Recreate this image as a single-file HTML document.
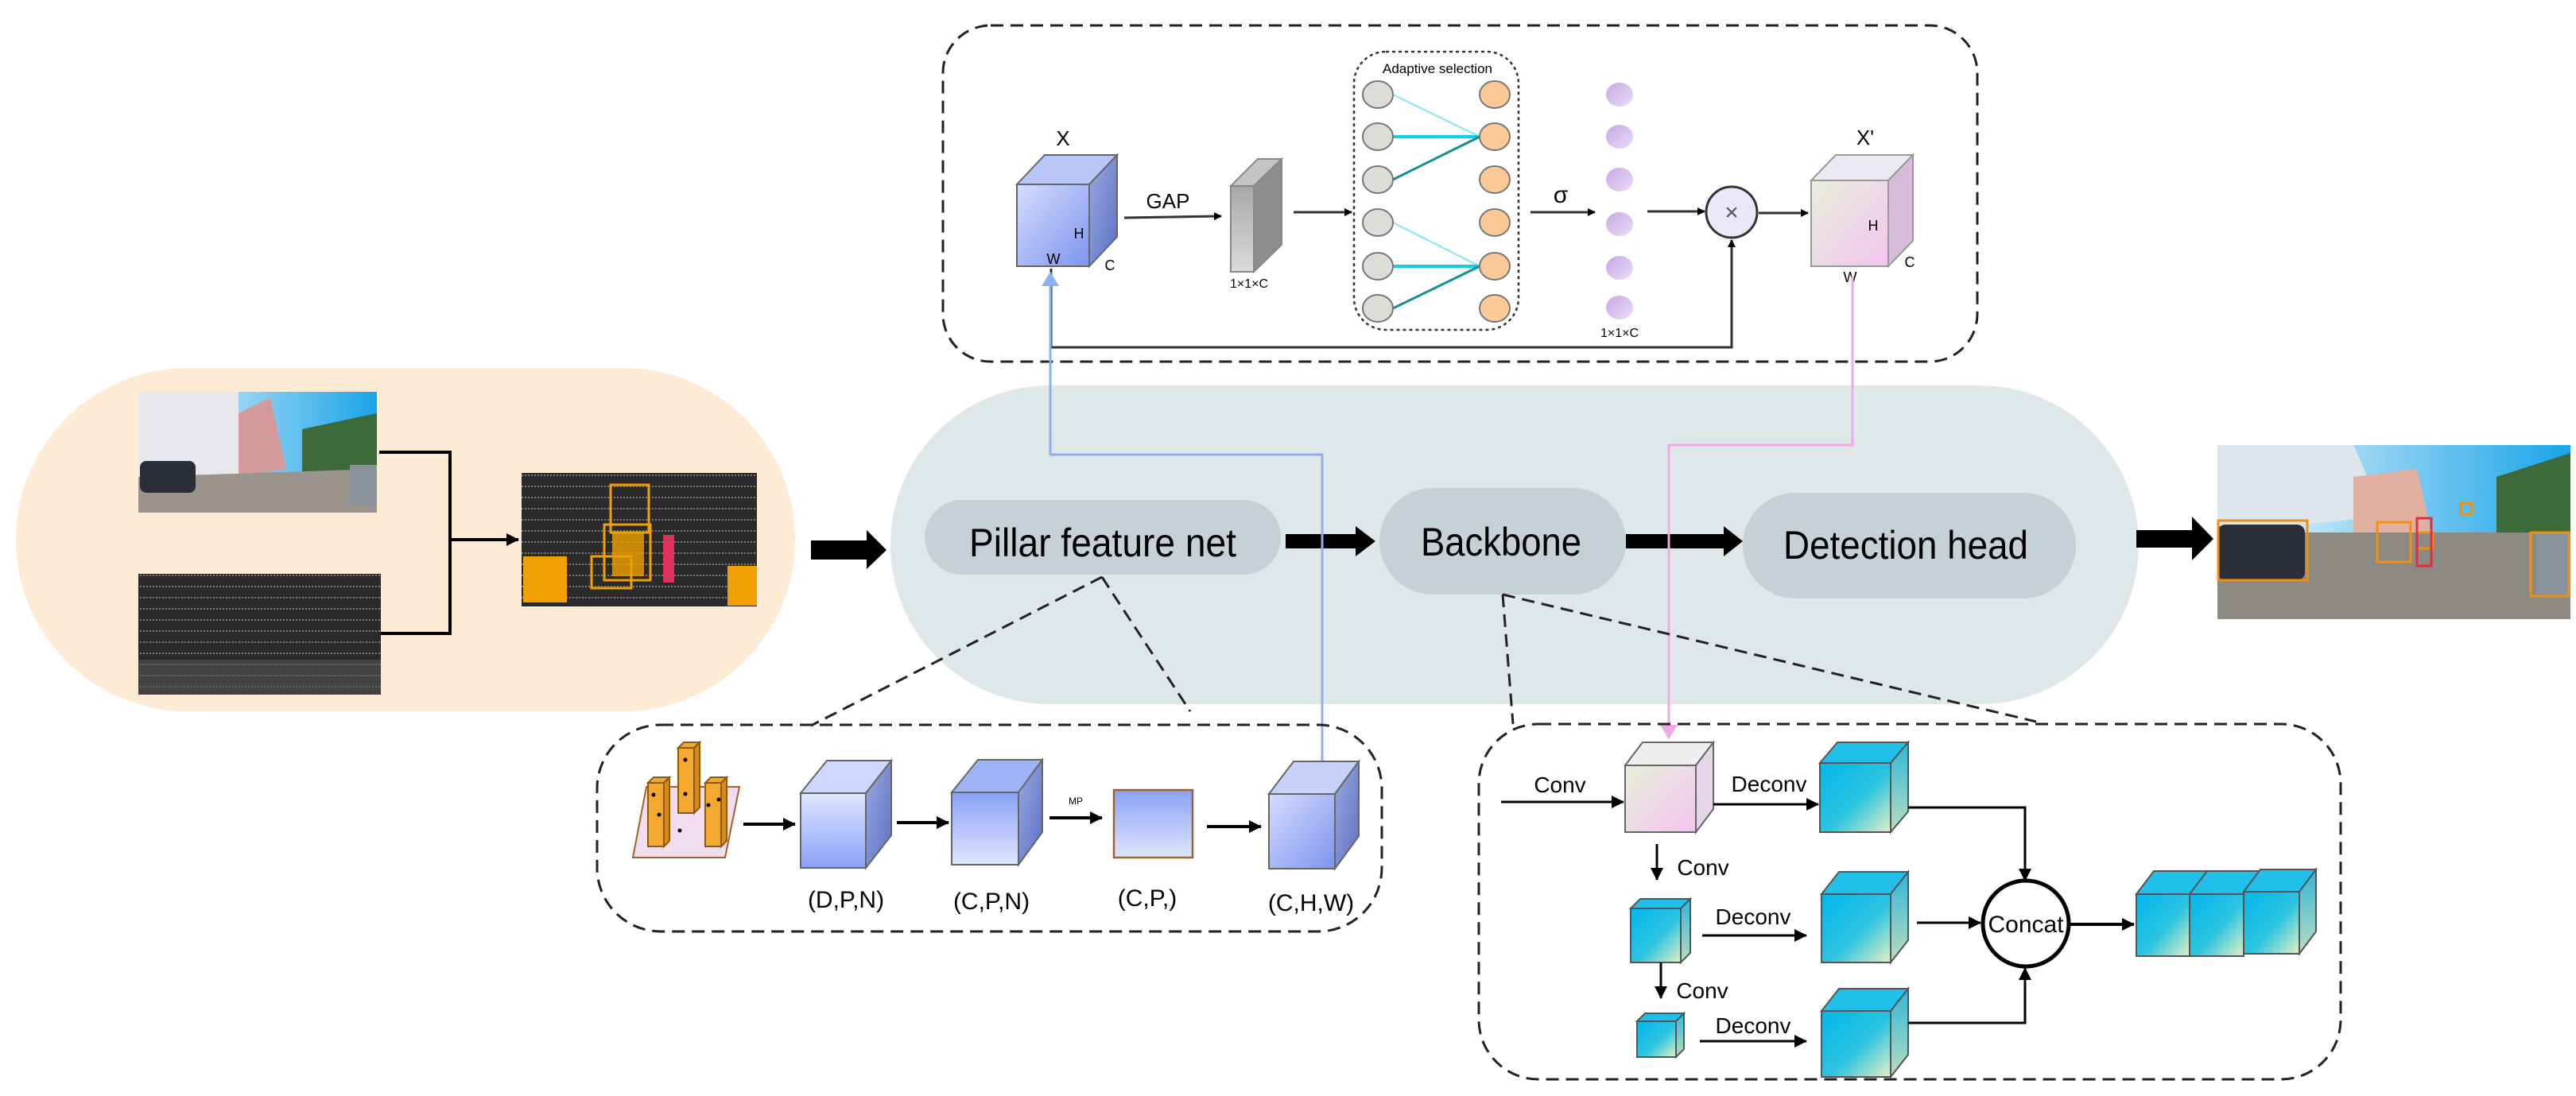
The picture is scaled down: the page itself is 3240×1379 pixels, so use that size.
<!DOCTYPE html>
<html><head><meta charset="utf-8"><style>
html,body{margin:0;padding:0;background:#fff;}
svg{display:block;font-family:"Liberation Sans Narrow","Liberation Sans",sans-serif;}
</style></head><body>
<svg width="3240" height="1379" viewBox="0 0 3240 1379" xmlns="http://www.w3.org/2000/svg">
<defs>
<marker id="ah" markerWidth="10" markerHeight="10" refX="9" refY="5" orient="auto" markerUnits="userSpaceOnUse"><path d="M0,0 L10,5 L0,10 z" fill="#000"/></marker>
<marker id="ahL" markerWidth="16" markerHeight="16" refX="15" refY="8" orient="auto" markerUnits="userSpaceOnUse"><path d="M0,0 L16,8 L0,16 z" fill="#000"/></marker>
<marker id="ahB" markerWidth="18" markerHeight="22" refX="17" refY="11" orient="auto" markerUnits="userSpaceOnUse"><path d="M0,0 L18,11 L0,22 z" fill="#8fb0f0"/></marker>
<marker id="ahP" markerWidth="18" markerHeight="22" refX="17" refY="11" orient="auto" markerUnits="userSpaceOnUse"><path d="M0,0 L18,11 L0,22 z" fill="#f0a8e8"/></marker>
<linearGradient id="gBlue" x1="0" y1="0" x2="1" y2="1"><stop offset="0" stop-color="#d4ddff"/><stop offset="1" stop-color="#7e94ee"/></linearGradient>
<linearGradient id="gBlue2" x1="0" y1="0" x2="0" y2="1"><stop offset="0" stop-color="#8aa2f6"/><stop offset="1" stop-color="#dfe6ff"/></linearGradient>
<linearGradient id="gSideB" x1="0" y1="0" x2="1" y2="1"><stop offset="0" stop-color="#9aa9e0"/><stop offset="1" stop-color="#5c70c4"/></linearGradient>
<linearGradient id="gPink" x1="0" y1="0" x2="1" y2="1"><stop offset="0" stop-color="#e6efdc"/><stop offset="1" stop-color="#f4c4ee"/></linearGradient>
<linearGradient id="gCyan" x1="0" y1="0" x2="1" y2="1"><stop offset="0" stop-color="#00b6ec"/><stop offset="0.55" stop-color="#2cc4e0"/><stop offset="1" stop-color="#e4f0c4"/></linearGradient>
<linearGradient id="gCyanS" x1="0" y1="0" x2="0" y2="1"><stop offset="0" stop-color="#30b8d8"/><stop offset="1" stop-color="#b8dcc0"/></linearGradient>
<linearGradient id="gGray" x1="0" y1="0" x2="0" y2="1"><stop offset="0" stop-color="#a8a8a8"/><stop offset="1" stop-color="#dadada"/></linearGradient>
<linearGradient id="gPurp" x1="0" y1="0" x2="1" y2="1"><stop offset="0" stop-color="#c7a8e6"/><stop offset="1" stop-color="#e9dcf4"/></linearGradient>
<linearGradient id="gSky" x1="0" y1="0" x2="1" y2="0"><stop offset="0" stop-color="#ffffff"/><stop offset="0.4" stop-color="#9ad6f4"/><stop offset="1" stop-color="#1aa4e8"/></linearGradient>
<pattern id="lidar" width="40" height="14" patternUnits="userSpaceOnUse"><rect width="40" height="14" fill="#2a2a2a"/><line x1="0" y1="10" x2="40" y2="10" stroke="#7a7a7a" stroke-width="2" stroke-dasharray="2 2"/></pattern>
</defs>

<!-- orange pill -->
<rect x="20" y="463" width="980" height="432" rx="216" fill="#fdebd5"/>
<!-- grey pill -->
<rect x="1120" y="485" width="1570" height="401" rx="200" fill="#dfe7e9"/>

<!-- photo 1 -->
<g>
<rect x="174" y="493" width="300" height="152" fill="url(#gSky)"/>
<polygon points="174,493 300,493 300,600 174,610" fill="#e8e8ec"/>
<polygon points="300,520 340,500 360,590 300,600" fill="#d49a9a"/>
<polygon points="380,540 474,520 474,600 380,600" fill="#3c6a3a"/>
<polygon points="174,600 474,590 474,645 174,645" fill="#9a948c"/>
<rect x="176" y="580" width="70" height="40" rx="8" fill="#2a2e38"/>
<rect x="440" y="585" width="34" height="50" fill="#8a929c"/>
</g>
<!-- lidar 2 -->
<rect x="174" y="722" width="305" height="152" fill="url(#lidar)"/>
<rect x="174" y="830" width="305" height="44" fill="#555" opacity="0.6"/>
<!-- bracket -->
<polyline points="477,569 566,569 566,797 479,797" fill="none" stroke="#000" stroke-width="4"/>
<line x1="566" y1="679" x2="652" y2="679" stroke="#000" stroke-width="4" marker-end="url(#ahL)"/>
<!-- result lidar -->
<rect x="656" y="595" width="296" height="168" fill="url(#lidar)"/>
<g fill="none" stroke="#f0a000" stroke-width="3">
<rect x="768" y="610" width="48" height="60"/><rect x="760" y="660" width="58" height="70"/>
<rect x="744" y="700" width="50" height="40"/>
</g>
<rect x="658" y="700" width="55" height="58" fill="#f0a000"/>
<rect x="915" y="712" width="37" height="50" fill="#f0a000"/>
<rect x="770" y="670" width="40" height="55" fill="#f0a000" opacity="0.8"/>
<rect x="834" y="673" width="14" height="60" fill="#e03060"/>

<!-- big arrows -->
<polygon points="1020,680 1090,680 1090,667 1115,692 1090,716 1090,704 1020,704" fill="#000"/>
<polygon points="1617,672 1705,672 1705,662 1730,681 1705,700 1705,690 1617,690" fill="#000"/>
<polygon points="2045,672 2168,672 2168,662 2192,681 2168,700 2168,690 2045,690" fill="#000"/>
<polygon points="2687,667 2757,667 2757,650 2784,678 2757,705 2757,689 2687,689" fill="#000"/>

<!-- pills -->
<rect x="1163" y="629" width="448" height="94" rx="47" fill="#c6d1d6"/>
<text x="1387" y="700" font-size="50" text-anchor="middle" textLength="336" lengthAdjust="spacingAndGlyphs">Pillar feature net</text>
<rect x="1735" y="614" width="310" height="134" rx="67" fill="#c6d1d6"/>
<text x="1888" y="699" font-size="50" text-anchor="middle" textLength="202" lengthAdjust="spacingAndGlyphs">Backbone</text>
<rect x="2192" y="620" width="419" height="133" rx="66" fill="#c6d1d6"/>
<text x="2397" y="703" font-size="50" text-anchor="middle" textLength="308" lengthAdjust="spacingAndGlyphs">Detection head</text>

<!-- final photo -->
<g>
<rect x="2789" y="560" width="444" height="219" fill="url(#gSky)"/>
<polygon points="2789,560 2960,560 3000,650 2789,670" fill="#dde4ea"/>
<polygon points="2960,600 3040,590 3060,680 2960,690" fill="#e0b0a0"/>
<polygon points="3140,600 3233,570 3233,690 3140,690" fill="#3c6a3a"/>
<polygon points="2789,670 3233,670 3233,779 2789,779" fill="#8c8882"/>
<rect x="2789" y="660" width="110" height="70" rx="10" fill="#2a2e38"/>
<rect x="3190" y="670" width="43" height="80" fill="#8a929c"/>
<g fill="none" stroke="#f09010" stroke-width="3"><rect x="2790" y="655" width="112" height="75"/><rect x="2990" y="657" width="42" height="50"/><rect x="3040" y="670" width="20" height="20"/><rect x="3183" y="670" width="48" height="80"/><rect x="3095" y="633" width="14" height="14"/></g>
<rect x="3040" y="652" width="18" height="60" fill="none" stroke="#e03040" stroke-width="3"/>
</g>

<!-- top dashed box -->
<rect x="1186" y="32" width="1301" height="423" rx="60" fill="none" stroke="#222" stroke-width="3" stroke-dasharray="16 9"/>
<!-- X cube -->
<polygon points="1279,232 1314,195 1405,195 1370,232" fill="#b8c6f8" stroke="#666" stroke-width="2"/>
<polygon points="1370,232 1405,195 1405,298 1370,335" fill="url(#gSideB)" stroke="#666" stroke-width="2"/>
<rect x="1279" y="232" width="91" height="103" fill="url(#gBlue)" stroke="#666" stroke-width="2"/>
<text x="1337" y="183" font-size="26" text-anchor="middle">X</text>
<text x="1357" y="300" font-size="18" text-anchor="middle">H</text>
<text x="1325" y="332" font-size="18" text-anchor="middle">W</text>
<text x="1396" y="340" font-size="18" text-anchor="middle" font-family="Liberation Sans">C</text>
<!-- GAP -->
<text x="1469" y="262" font-size="26" text-anchor="middle">GAP</text>
<line x1="1414" y1="274" x2="1536" y2="272" stroke="#333" stroke-width="3" marker-end="url(#ah)"/>
<!-- slab -->
<polygon points="1548,234 1582,200 1612,200 1577,234" fill="#c4c4c4" stroke="#888" stroke-width="2"/>
<polygon points="1577,234 1612,200 1612,308 1577,342" fill="#8e8e8e" stroke="#888" stroke-width="2"/>
<rect x="1548" y="234" width="29" height="108" fill="url(#gGray)" stroke="#888" stroke-width="2"/>
<text x="1571" y="362" font-size="16" text-anchor="middle" font-family="Liberation Sans">1×1×C</text>
<line x1="1627" y1="267" x2="1700" y2="267" stroke="#333" stroke-width="3" marker-end="url(#ah)"/>
<!-- adaptive box -->
<rect x="1703" y="65" width="207" height="350" rx="40" fill="none" stroke="#333" stroke-width="2.5" stroke-dasharray="4 4"/>
<text x="1808" y="92" font-size="17" text-anchor="middle">Adaptive selection</text>
<g stroke-width="2">
<line x1="1752" y1="119" x2="1861" y2="172" stroke="#7de8f0"/>
<line x1="1752" y1="172" x2="1861" y2="172" stroke="#10d0e8" stroke-width="4"/>
<line x1="1752" y1="226" x2="1861" y2="172" stroke="#10908f" stroke-width="3"/>
<line x1="1752" y1="280" x2="1861" y2="335" stroke="#7de8f0"/>
<line x1="1752" y1="335" x2="1861" y2="335" stroke="#10d0e8" stroke-width="4"/>
<line x1="1752" y1="388" x2="1861" y2="335" stroke="#10908f" stroke-width="3"/>
</g>
<g fill="#dcdcd8" stroke="#777" stroke-width="2">
<ellipse cx="1733" cy="119" rx="19" ry="17"/><ellipse cx="1733" cy="172" rx="19" ry="17"/><ellipse cx="1733" cy="226" rx="19" ry="17"/>
<ellipse cx="1733" cy="280" rx="19" ry="17"/><ellipse cx="1733" cy="335" rx="19" ry="17"/><ellipse cx="1733" cy="388" rx="19" ry="17"/>
</g>
<g fill="#fbc898" stroke="#777" stroke-width="2">
<ellipse cx="1880" cy="119" rx="19" ry="17"/><ellipse cx="1880" cy="172" rx="19" ry="17"/><ellipse cx="1880" cy="226" rx="19" ry="17"/>
<ellipse cx="1880" cy="280" rx="19" ry="17"/><ellipse cx="1880" cy="335" rx="19" ry="17"/><ellipse cx="1880" cy="388" rx="19" ry="17"/>
</g>
<text x="1963" y="255" font-size="30" text-anchor="middle" font-family="Liberation Sans">σ</text>
<line x1="1925" y1="267" x2="2006" y2="267" stroke="#333" stroke-width="3" marker-end="url(#ah)"/>
<g fill="url(#gPurp)">
<ellipse cx="2037" cy="119" rx="17" ry="15"/><ellipse cx="2037" cy="172" rx="17" ry="15"/><ellipse cx="2037" cy="226" rx="17" ry="15"/>
<ellipse cx="2037" cy="282" rx="17" ry="15"/><ellipse cx="2037" cy="337" rx="17" ry="15"/><ellipse cx="2037" cy="387" rx="17" ry="15"/>
</g>
<text x="2037" y="424" font-size="16" text-anchor="middle" font-family="Liberation Sans">1×1×C</text>
<line x1="2072" y1="266" x2="2144" y2="266" stroke="#333" stroke-width="3" marker-end="url(#ah)"/>
<circle cx="2178" cy="267" r="32" fill="#eae8f8" stroke="#333" stroke-width="3"/>
<text x="2178" y="277" font-size="30" text-anchor="middle" fill="#555" font-family="Liberation Sans">×</text>
<line x1="2212" y1="268" x2="2274" y2="268" stroke="#333" stroke-width="3" marker-end="url(#ah)"/>
<!-- X' cube -->
<polygon points="2278,227 2309,195 2406,195 2375,227" fill="#ede9f2" stroke="#999" stroke-width="2"/>
<polygon points="2375,227 2406,195 2406,303 2375,335" fill="#d6bcda" stroke="#999" stroke-width="2"/>
<rect x="2278" y="227" width="97" height="108" fill="url(#gPink)" stroke="#999" stroke-width="2"/>
<text x="2346" y="182" font-size="26" text-anchor="middle">X'</text>
<text x="2356" y="290" font-size="18" text-anchor="middle">H</text>
<text x="2327" y="355" font-size="18" text-anchor="middle">W</text>
<text x="2402" y="336" font-size="18" text-anchor="middle" font-family="Liberation Sans">C</text>
<!-- skip line -->
<polyline points="1322,338 1322,437 2178,437 2178,302" fill="none" stroke="#333" stroke-width="3" marker-end="url(#ah)"/>

<!-- blue connector -->
<polyline points="1663,959 1663,572 1321,572 1321,343" fill="none" stroke="#8fb0f0" stroke-width="3" marker-end="url(#ahB)"/>
<!-- pink connector -->
<polyline points="2330,347 2330,560 2099,560 2099,929" fill="none" stroke="#f0a8e8" stroke-width="3" marker-end="url(#ahP)"/>

<!-- PFN dashed -->
<rect x="751" y="912" width="987" height="260" rx="80" fill="none" stroke="#222" stroke-width="3" stroke-dasharray="16 9"/>
<line x1="1386" y1="726" x2="1020" y2="913" stroke="#222" stroke-width="3" stroke-dasharray="16 9"/>
<line x1="1386" y1="726" x2="1497" y2="895" stroke="#222" stroke-width="3" stroke-dasharray="16 9"/>
<!-- pillars icon -->
<polygon points="796,1079 912,1079 930,990 813,990" fill="#f2dcf0" stroke="#a0622a" stroke-width="2"/>
<g fill="#f5a830" stroke="#8a5a10" stroke-width="2">
<rect x="815" y="985" width="20" height="80"/><polygon points="815,985 822,978 842,978 835,985"/><polygon points="835,985 842,978 842,1058 835,1065" fill="#d88a18"/>
<rect x="853" y="941" width="20" height="82"/><polygon points="853,941 860,934 880,934 873,941"/><polygon points="873,941 880,934 880,1016 873,1023" fill="#d88a18"/>
<rect x="887" y="985" width="20" height="80"/><polygon points="887,985 894,978 914,978 907,985"/><polygon points="907,985 914,978 914,1058 907,1065" fill="#d88a18"/>
</g>
<g fill="#000"><circle cx="822" cy="1000" r="2.5"/><circle cx="829" cy="1025" r="2.5"/><circle cx="862" cy="956" r="2.5"/><circle cx="862" cy="999" r="2.5"/><circle cx="891" cy="1013" r="2.5"/><circle cx="904" cy="1006" r="2.5"/><circle cx="855" cy="1045" r="2.5"/></g>
<line x1="935" y1="1037" x2="1000" y2="1037" stroke="#000" stroke-width="4" marker-end="url(#ahL)"/>
<!-- DPN -->
<polygon points="1007,998 1040,957 1121,957 1089,998" fill="#cdd7ff" stroke="#666" stroke-width="2"/>
<polygon points="1089,998 1121,957 1121,1051 1089,1092" fill="url(#gSideB)" stroke="#666" stroke-width="2"/>
<rect x="1007" y="998" width="82" height="94" fill="url(#gBlue2)" stroke="#666" stroke-width="2" transform="rotate(180 1048 1045)"/>
<line x1="1128" y1="1035" x2="1193" y2="1035" stroke="#000" stroke-width="4" marker-end="url(#ahL)"/>
<!-- CPN -->
<polygon points="1197,997 1230,956 1311,956 1281,997" fill="#9fb4f4" stroke="#666" stroke-width="2"/>
<polygon points="1281,997 1311,956 1311,1047 1281,1088" fill="url(#gSideB)" stroke="#666" stroke-width="2"/>
<rect x="1197" y="997" width="84" height="91" fill="url(#gBlue2)" stroke="#666" stroke-width="2"/>
<text x="1353" y="1012" font-size="12" text-anchor="middle">MP</text>
<line x1="1320" y1="1029" x2="1386" y2="1029" stroke="#000" stroke-width="4" marker-end="url(#ahL)"/>
<rect x="1401" y="994" width="99" height="85" fill="url(#gBlue2)" stroke="#a0622a" stroke-width="2.5"/>
<line x1="1518" y1="1040" x2="1586" y2="1040" stroke="#000" stroke-width="4" marker-end="url(#ahL)"/>
<!-- CHW -->
<polygon points="1596,999 1627,958 1709,958 1679,999" fill="#c6d2fa" stroke="#666" stroke-width="2"/>
<polygon points="1679,999 1709,958 1709,1052 1679,1093" fill="url(#gSideB)" stroke="#666" stroke-width="2"/>
<rect x="1596" y="999" width="83" height="94" fill="url(#gBlue)" stroke="#666" stroke-width="2"/>
<g font-size="30" text-anchor="middle">
<text x="1064" y="1142">(D,P,N)</text><text x="1247" y="1144">(C,P,N)</text><text x="1443" y="1140">(C,P,)</text><text x="1649" y="1146">(C,H,W)</text>
</g>

<!-- Backbone dashed -->
<rect x="1860" y="911" width="1084" height="447" rx="75" fill="none" stroke="#222" stroke-width="3" stroke-dasharray="16 9"/>
<line x1="1890" y1="748" x2="1903" y2="911" stroke="#222" stroke-width="3" stroke-dasharray="16 9"/>
<line x1="1890" y1="748" x2="2561" y2="908" stroke="#222" stroke-width="3" stroke-dasharray="16 9"/>
<!-- Conv in -->
<text x="1962" y="997" font-size="28" text-anchor="middle">Conv</text>
<line x1="1888" y1="1009" x2="2042" y2="1009" stroke="#000" stroke-width="3" marker-end="url(#ahL)"/>
<!-- pink cube -->
<polygon points="2044,963 2066,934 2155,934 2133,963" fill="#eceef0" stroke="#666" stroke-width="2"/>
<polygon points="2133,963 2155,934 2155,1018 2133,1047" fill="#e6d4e8" stroke="#666" stroke-width="2"/>
<rect x="2044" y="963" width="89" height="84" fill="url(#gPink)" stroke="#666" stroke-width="2"/>
<text x="2225" y="996" font-size="28" text-anchor="middle">Deconv</text>
<line x1="2155" y1="1012" x2="2287" y2="1012" stroke="#000" stroke-width="3" marker-end="url(#ahL)"/>
<!-- cyan 1 -->
<polygon points="2289,960 2311,934 2400,934 2378,960" fill="#20c0ea" stroke="#555" stroke-width="2"/>
<polygon points="2378,960 2400,934 2400,1021 2378,1047" fill="url(#gCyanS)" stroke="#555" stroke-width="2"/>
<rect x="2289" y="960" width="89" height="87" fill="url(#gCyan)" stroke="#555" stroke-width="2"/>
<polyline points="2400,1016 2547,1016 2547,1108" fill="none" stroke="#000" stroke-width="3" marker-end="url(#ahL)"/>
<!-- conv down 1 -->
<line x1="2084" y1="1062" x2="2084" y2="1107" stroke="#000" stroke-width="3" marker-end="url(#ahL)"/>
<text x="2142" y="1101" font-size="28" text-anchor="middle">Conv</text>
<!-- small cube2 -->
<polygon points="2051,1143 2063,1131 2126,1131 2114,1143" fill="#20c0ea" stroke="#555" stroke-width="2"/>
<polygon points="2114,1143 2126,1131 2126,1199 2114,1211" fill="url(#gCyanS)" stroke="#555" stroke-width="2"/>
<rect x="2051" y="1143" width="63" height="68" fill="url(#gCyan)" stroke="#555" stroke-width="2"/>
<text x="2205" y="1163" font-size="28" text-anchor="middle">Deconv</text>
<line x1="2141" y1="1177" x2="2272" y2="1177" stroke="#000" stroke-width="3" marker-end="url(#ahL)"/>
<!-- cyan mid -->
<polygon points="2291,1125 2313,1097 2400,1097 2378,1125" fill="#20c0ea" stroke="#555" stroke-width="2"/>
<polygon points="2378,1125 2400,1097 2400,1183 2378,1211" fill="url(#gCyanS)" stroke="#555" stroke-width="2"/>
<rect x="2291" y="1125" width="87" height="86" fill="url(#gCyan)" stroke="#555" stroke-width="2"/>
<line x1="2411" y1="1161" x2="2491" y2="1161" stroke="#000" stroke-width="3" marker-end="url(#ahL)"/>
<!-- conv down 2 -->
<line x1="2089" y1="1211" x2="2089" y2="1256" stroke="#000" stroke-width="3" marker-end="url(#ahL)"/>
<text x="2141" y="1256" font-size="28" text-anchor="middle">Conv</text>
<!-- tiny cube3 -->
<polygon points="2059,1285 2069,1275 2118,1275 2108,1285" fill="#20c0ea" stroke="#555" stroke-width="2"/>
<polygon points="2108,1285 2118,1275 2118,1320 2108,1330" fill="url(#gCyanS)" stroke="#555" stroke-width="2"/>
<rect x="2059" y="1285" width="49" height="45" fill="url(#gCyan)" stroke="#555" stroke-width="2"/>
<text x="2205" y="1300" font-size="28" text-anchor="middle">Deconv</text>
<line x1="2138" y1="1310" x2="2272" y2="1310" stroke="#000" stroke-width="3" marker-end="url(#ahL)"/>
<!-- cyan bottom -->
<polygon points="2291,1272 2313,1244 2400,1244 2378,1272" fill="#20c0ea" stroke="#555" stroke-width="2"/>
<polygon points="2378,1272 2400,1244 2400,1327 2378,1355" fill="url(#gCyanS)" stroke="#555" stroke-width="2"/>
<rect x="2291" y="1272" width="87" height="83" fill="url(#gCyan)" stroke="#555" stroke-width="2"/>
<polyline points="2400,1287 2547,1287 2547,1218" fill="none" stroke="#000" stroke-width="3" marker-end="url(#ahL)"/>
<!-- concat -->
<circle cx="2548" cy="1162" r="54" fill="#fff" stroke="#000" stroke-width="5"/>
<text x="2548" y="1173" font-size="30" text-anchor="middle">Concat</text>
<line x1="2604" y1="1163" x2="2684" y2="1163" stroke="#000" stroke-width="4" marker-end="url(#ahL)"/>
<!-- output cubes -->
<polygon points="2687,1125 2709,1096 2776,1096 2754,1125" fill="#20c0ea" stroke="#555" stroke-width="2"/>
<rect x="2687" y="1125" width="67" height="78" fill="url(#gCyan)" stroke="#555" stroke-width="2"/>
<polygon points="2754,1125 2776,1096 2844,1096 2822,1125" fill="#20c0ea" stroke="#555" stroke-width="2"/>
<rect x="2754" y="1125" width="68" height="78" fill="url(#gCyan)" stroke="#555" stroke-width="2"/>
<polygon points="2822,1122 2843,1094 2913,1094 2892,1122" fill="#20c0ea" stroke="#555" stroke-width="2"/>
<polygon points="2892,1122 2913,1094 2913,1172 2892,1200" fill="url(#gCyanS)" stroke="#555" stroke-width="2"/>
<rect x="2822" y="1122" width="70" height="78" fill="url(#gCyan)" stroke="#555" stroke-width="2"/>
</svg>
</body></html>
